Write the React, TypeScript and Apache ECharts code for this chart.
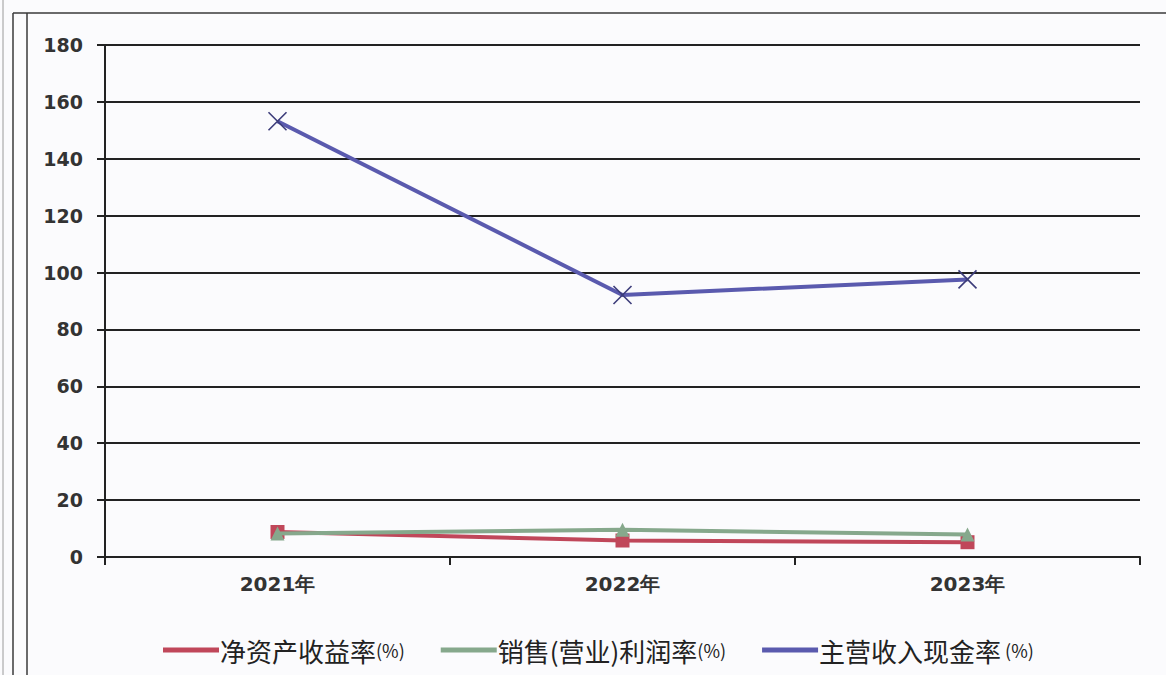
import React, { useEffect, useRef } from "react";
import * as echarts from "echarts";

// Years on the category axis
const categories: string[] = ["2021年", "2022年", "2023年"];

// Series values (%)
const roe: number[] = [8.8, 5.8, 5.2]; // 净资产收益率
const profitMargin: number[] = [8.3, 9.6, 7.9]; // 销售(营业)利润率
const cashRatio: number[] = [153.2, 92.1, 97.6]; // 主营收入现金率

const seriesNames: string[] = ["净资产收益率(%)", "销售(营业)利润率(%)", "主营收入现金率 (%)"];

const yMin = 0;
const yMax = 180;
const yStep = 20;

const RED = "#c0475a";
const GREEN = "#86a88c";
const BLUE = "#5a5aae";
const INK = "#222222";
const seriesColors: string[] = [RED, GREEN, BLUE];

const CROSS = "path://M0,0L10,10M10,0L0,10";

export default function App() {
  const ref = useRef<HTMLDivElement>(null);

  useEffect(() => {
    if (!ref.current) return;
    const chart = echarts.init(ref.current, undefined, { renderer: "svg" });

    chart.setOption({
      animation: false,
      backgroundColor: "#fbfbfd",
      textStyle: { fontFamily: "DejaVu Sans" },
      grid: { left: 105, right: 26, top: 45, bottom: 118, containLabel: false },
      legend: {
        left: 158,
        top: 632,
        itemWidth: 56,
        itemHeight: 5,
        itemGap: 36,
        data: seriesNames.map((name, i) => ({
          name,
          icon: "rect",
          itemStyle: { color: seriesColors[i], borderWidth: 0 },
        })),
        formatter: (name: string) => {
          const m = name.match(/^(.*?)(\s?\(%\))$/);
          if (!m) return `{c|${name}}`;
          return `{c|${m[1]}}{p|${m[2]}}`;
        },
        textStyle: {
          padding: [0, 0, 0, -4],
          rich: {
            c: { fontFamily: "Noto Sans CJK SC", fontSize: 26, color: INK },
            p: { fontFamily: "Noto Sans CJK SC", fontSize: 18, color: INK },
          },
        },
      },
      xAxis: {
        type: "category",
        data: categories,
        boundaryGap: true,
        axisLine: { show: true, lineStyle: { color: INK, width: 2 } },
        axisTick: { show: true, length: 8, lineStyle: { color: INK, width: 2 } },
        axisLabel: {
          margin: 17,
          fontSize: 20,
          fontWeight: "bold",
          color: "#333",
          fontFamily: "DejaVu Sans",
        },
        splitLine: { show: false },
      },
      yAxis: {
        type: "value",
        min: yMin,
        max: yMax,
        interval: yStep,
        axisLine: { show: true, lineStyle: { color: INK, width: 2 } },
        axisTick: { show: true, length: 8, lineStyle: { color: INK, width: 2 } },
        axisLabel: {
          margin: 22,
          fontSize: 19,
          fontWeight: "bold",
          color: "#333",
          fontFamily: "DejaVu Sans",
        },
        splitLine: { show: true, lineStyle: { color: INK, width: 2 } },
      },
      series: [
        {
          name: seriesNames[0],
          type: "line",
          data: roe,
          symbol: "rect",
          symbolSize: 14,
          lineStyle: { color: RED, width: 4 },
          itemStyle: { color: RED },
          z: 3,
        },
        {
          name: seriesNames[1],
          type: "line",
          data: profitMargin,
          symbol: "triangle",
          symbolSize: 14,
          lineStyle: { color: GREEN, width: 4 },
          itemStyle: { color: GREEN },
          z: 4,
        },
        {
          name: seriesNames[2],
          type: "line",
          data: cashRatio,
          symbol: CROSS,
          symbolSize: 18,
          lineStyle: { color: BLUE, width: 4 },
          itemStyle: { color: "none", borderColor: "#3c3c7a", borderWidth: 1.6 },
          z: 5,
        },
      ],
      graphic: [
        { type: "line", shape: { x1: 3, y1: 0, x2: 3, y2: 675 }, style: { stroke: "#9a9a9a", lineWidth: 1 } },
        { type: "line", shape: { x1: 13, y1: 13, x2: 13, y2: 675 }, style: { stroke: "#3a3a3a", lineWidth: 1.5 } },
        { type: "line", shape: { x1: 27, y1: 13, x2: 27, y2: 675 }, style: { stroke: "#3a3a3a", lineWidth: 1.5 } },
        { type: "line", shape: { x1: 13, y1: 13, x2: 1166, y2: 13 }, style: { stroke: "#3a3a3a", lineWidth: 1.5 } },
      ],
    });

    return () => chart.dispose();
  }, []);

  return (
    <div
      ref={ref}
      style={{ position: "fixed", left: 0, top: 0, width: 1166, height: 675 }}
    />
  );
}
